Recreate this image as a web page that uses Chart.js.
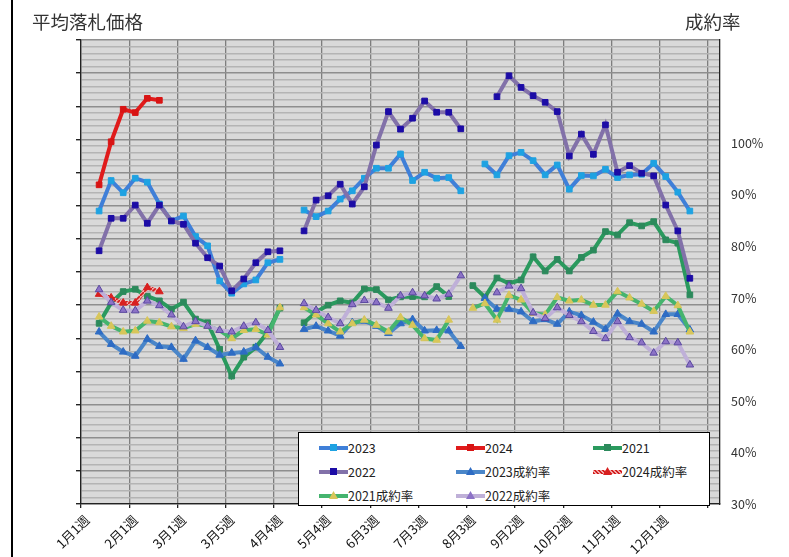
<!DOCTYPE html>
<html>
<head>
<meta charset="utf-8">
<script src="https://cdn.jsdelivr.net/npm/chart.js@4.4.1/dist/chart.umd.min.js"></script>
<style>
  body { margin: 0; background: #fff; font-family: "Noto Sans CJK JP", "Noto Sans", sans-serif; }
  #wrap { position: relative; width: 789px; height: 557px; overflow: hidden; }
  #frameLine { position: absolute; left: 11px; top: 0; width: 1.5px; height: 557px; background: #000; }
  .axisTitle { position: absolute; top: 10px; font-size: 18.5px; line-height: 22px; color: #333; }
  #legendBox { position: absolute; left: 298px; top: 432px; width: 410px; height: 72px;
    border: 1px solid #000; background: #fff; }
  .item { position: absolute; height: 16px; font-size: 12.5px; line-height: 16px; color: #222; white-space: nowrap; }
  .swatch { position: absolute; left: 0; top: 6px; width: 29px; height: 4px; }
  .mark { position: absolute; left: 11px; top: -2px; width: 7px; height: 7px; }
  .tri { clip-path: polygon(50% 0, 100% 100%, 0 100%); left: 10px; width: 9px; height: 8px; top: -3px; }
  .label { position: absolute; left: 29px; top: 0; }
</style>
</head>
<body>
<div id="wrap">
  <canvas id="chart" width="789" height="557"></canvas>
  <div id="frameLine"></div>
  <div class="axisTitle" style="left:32px">平均落札価格</div>
  <div class="axisTitle" style="left:685px">成約率</div>
  <div id="legendBox"></div>
</div>
<script>
// week categories (53 weeks, label every 4th)
const weeks = ['1月1週','1月2週','1月3週','1月4週','2月1週','2月2週','2月3週','2月4週',
  '3月1週','3月2週','3月3週','3月4週','3月5週','4月1週','4月2週','4月3週','4月4週',
  '5月1週','5月2週','5月3週','5月4週','5月5週','6月1週','6月2週','6月3週','6月4週',
  '7月1週','7月2週','7月3週','7月4週','8月1週','8月2週','8月3週','8月4週','8月5週',
  '9月1週','9月2週','9月3週','9月4週','10月1週','10月2週','10月3週','10月4週','10月5週',
  '11月1週','11月2週','11月3週','11月4週','12月1週','12月2週','12月3週','12月4週','12月5週'];

// average price (left axis), null = no auction that week
const price2023 = [null,
  884, 976, 939, 983, 971, 905, 854, 869, 807, 779, 673, 636, 664, 676, 728, 738,
  null,
  887, 867, 884, 920, 945, 983, 1013, 1013, 1056, 976, 1001, 983, 985, 945,
  null,
  1026, 993, 1051, 1061, 1036, 993, 1023, 950, 991, 990, 1010, 985, 993, 995, 1028, 988, 941, 884,
  null, null];
const price2024 = [null, 963, 1093, 1191, 1181, 1224, 1218];
const price2021 = [null,
  545, 607, 641, 648, 627, 613, 588, 609, 558, 547, 467, 386, 443, 473, 519, 591,
  null,
  547, 579, 600, 613, 607, 649, 647, 616, 625, 626, 625, 656, 626,
  null,
  659, 624, 682, 666, 676, 746, 703, 738, 703, 744, 766, 822, 812, 849, 839, 852, 797, 787, 631,
  null, null];
const price2022 = [null,
  764, 862, 862, 902, 847, 902, 854, 844, 787, 743, 718, 643, 679, 728, 761, 764,
  null,
  824, 917, 930, 965, 905, 957, 1083, 1184, 1131, 1164, 1216, 1182, 1182, 1132,
  null, null,
  1229, 1292, 1257, 1232, 1212, 1184, 1050, 1116, 1055, 1144, 1001, 1021, 998, 990, 902, 824, 681,
  null, null];

// contract rate % (right axis)
const rate2023 = [null,
  63.4, 61.0, 59.5, 58.7, 62.0, 60.6, 60.4, 58.1, 61.7, 60.4, 58.9, 59.3, 59.5, 60.4, 58.5, 57.2,
  null,
  63.9, 64.5, 63.6, 62.6, 65.2, 65.5, 64.5, 63.1, 65.0, 65.8, 63.6, 63.7, 63.6, 60.6,
  null,
  69.9, 67.8, 67.8, 67.3, 65.4, 65.8, 64.9, 67.3, 66.6, 65.3, 63.9, 66.9, 65.4, 64.9, 63.4, 66.8, 66.8, 63.8,
  null, null];
const rate2024 = [null, 70.7, 70.0, 69.0, 69.0, 72.0, 71.2];
const rate2021 = [null,
  66.3, 64.5, 63.4, 63.6, 65.5, 65.2, 64.4, 64.1, 64.9, 64.5, 63.7, 62.1, 63.7, 63.9, 62.8, 68.1,
  null,
  68.1, 66.7, 65.0, 63.4, 65.0, 65.7, 64.7, 63.4, 66.2, 64.7, 62.1, 61.8, 65.7,
  null,
  68.0, 68.9, 65.7, 70.5, 69.6, 67.0, 66.7, 70.1, 69.4, 69.6, 68.6, 68.6, 71.2, 70.0, 68.8, 67.4, 70.3, 68.5, 63.4,
  null, null];
const rate2022 = [null,
  71.6, 69.1, 67.6, 67.5, 69.4, 68.5, 66.7, 64.4, 65.4, 64.5, 63.7, 63.4, 64.5, 65.2, 63.7, 60.4,
  null,
  68.9, 67.6, 66.2, 65.0, 68.7, 69.5, 69.1, 68.0, 70.4, 71.0, 70.4, 69.8, 70.7, 74.3,
  null, null,
  71.0, 72.3, 71.8, 67.1, 66.0, 68.1, 66.6, 65.4, 63.5, 62.1, 65.4, 62.3, 61.3, 59.3, 61.5, 61.3, 57.0,
  null, null];

// red hatched stroke for 2024成約率
function hatch() {
  const c = document.createElement('canvas');
  c.width = 4; c.height = 4;
  const g = c.getContext('2d');
  g.fillStyle = '#f2a8a8';
  g.fillRect(0, 0, 4, 4);
  g.strokeStyle = '#d41e1e';
  g.lineWidth = 1.6;
  g.beginPath(); g.moveTo(-1, 5); g.lineTo(5, -1); g.stroke();
  return g.createPattern(c, 'repeat');
}

// one entry per series: name, data, axis, line colour, marker colour, marker style
const series = [
  ['2023', price2023, 'y', '#3f7fd8', '#1ea2e2', 'rect'],
  ['2024', price2024, 'y', '#e01b1b', '#d81414', 'rect'],
  ['2021', price2021, 'y', '#2a9a5e', '#2c8a5c', 'rect'],
  ['2022', price2022, 'y', '#8271a9', '#1c0ca6', 'rect'],
  ['2023成約率', rate2023, 'y1', '#4a86c9', '#2e6cc4', 'triangle'],
  ['2024成約率', rate2024, 'y1', hatch(), '#d82020', 'triangle'],
  ['2021成約率', rate2021, 'y1', '#45b46e', '#d8c65a', 'triangle'],
  ['2022成約率', rate2022, 'y1', '#bfb0d8', '#8c72c6', 'triangle']
];

const datasets = series.map((s, i) => ({
  label: s[0],
  data: s[1],
  yAxisID: s[2],
  borderColor: s[3],
  backgroundColor: s[4],
  pointBackgroundColor: s[4],
  pointBorderColor: s[5] === 'rect' ? s[4] : (i === 7 ? '#5a48a0' : s[4]),
  pointBorderWidth: 1,
  pointStyle: s[5],
  pointRadius: s[5] === 'rect' ? 4 : 4.4,
  borderWidth: 4,
  tension: 0,
  spanGaps: false,
  order: 8 - i
}));

// gray plot background
const plotBg = {
  id: 'plotBg',
  beforeDraw(chart) {
    const a = chart.chartArea;
    const ctx = chart.ctx;
    ctx.save();
    ctx.fillStyle = '#d9d9d9';
    ctx.fillRect(a.left, a.top, a.right - a.left, a.bottom - a.top);
    ctx.restore();
  }
};

new Chart(document.getElementById('chart'), {
  type: 'line',
  data: { labels: weeks, datasets: datasets },
  plugins: [plotBg],
  options: {
    responsive: false,
    animation: false,
    devicePixelRatio: 1,
    layout: { padding: { left: 61, right: 19, top: 40, bottom: 0 } },
    plugins: { legend: { display: false }, tooltip: { enabled: false } },
    scales: {
      x: {
        offset: true,
        grid: {
          offset: true,
          lineWidth: 1.3,
          tickLength: 4,
          color: ctx => ctx.index % 4 === 0 ? '#7e7e7e' : 'rgba(0,0,0,0)',
          tickColor: ctx => ctx.index % 4 === 0 ? '#222' : 'rgba(0,0,0,0)'
        },
        border: { color: '#222', width: 1.3 },
        ticks: {
          autoSkip: false, maxRotation: 45, minRotation: 45, padding: 4,
          color: '#111', font: { family: '"Noto Sans CJK JP", sans-serif', size: 13 },
          callback: (v, i) => (i % 4 === 0 && i < 52) ? weeks[i] : ''
        },
        afterFit: s => { s.height = 53; }
      },
      y: {
        position: 'left',
        min: 0, max: 1400,
        ticks: { stepSize: 20, display: false },
        grid: {
          lineWidth: 1.4,
          tickLength: 5,
          color: ctx => ctx.tick.value % 100 === 0 ? '#8e8e8e' : '#b4b4b4',
          tickColor: ctx => ctx.tick.value % 100 === 0 ? '#222' : 'rgba(0,0,0,0)'
        },
        border: { color: '#222', width: 1.3 },
        afterFit: s => { s.width = 20; }
      },
      y1: {
        position: 'right',
        min: 30, max: 120,
        ticks: {
          stepSize: 10, padding: 11, color: '#333',
          font: { family: '"Noto Sans CJK JP", sans-serif', size: 12.5 },
          callback: v => v <= 100 ? v + '%' : ''
        },
        grid: { drawOnChartArea: false, drawTicks: false },
        border: { color: '#222', width: 1.3 },
        afterFit: s => { s.width = 50; }
      }
    }
  }
});

// legend box inside the plot, 3 columns
const legendPos = [[20, 7], [157, 7], [294, 7], [20, 31], [157, 31], [294, 31], [20, 55], [157, 55]];
const box = document.getElementById('legendBox');
series.forEach((s, i) => {
  const item = document.createElement('div');
  item.className = 'item';
  item.style.left = legendPos[i][0] + 'px';
  item.style.top = legendPos[i][1] + 'px';
  const sw = document.createElement('div');
  sw.className = 'swatch';
  sw.style.background = i === 5
    ? 'repeating-linear-gradient(45deg, #d41e1e 0 1.5px, #f2a8a8 1.5px 3px)'
    : s[3];
  const mk = document.createElement('div');
  mk.className = s[5] === 'rect' ? 'mark' : 'mark tri';
  mk.style.background = s[4];
  sw.appendChild(mk);
  const lb = document.createElement('span');
  lb.className = 'label';
  lb.textContent = s[0];
  item.appendChild(sw);
  item.appendChild(lb);
  box.appendChild(item);
});
</script>
</body>
</html>
